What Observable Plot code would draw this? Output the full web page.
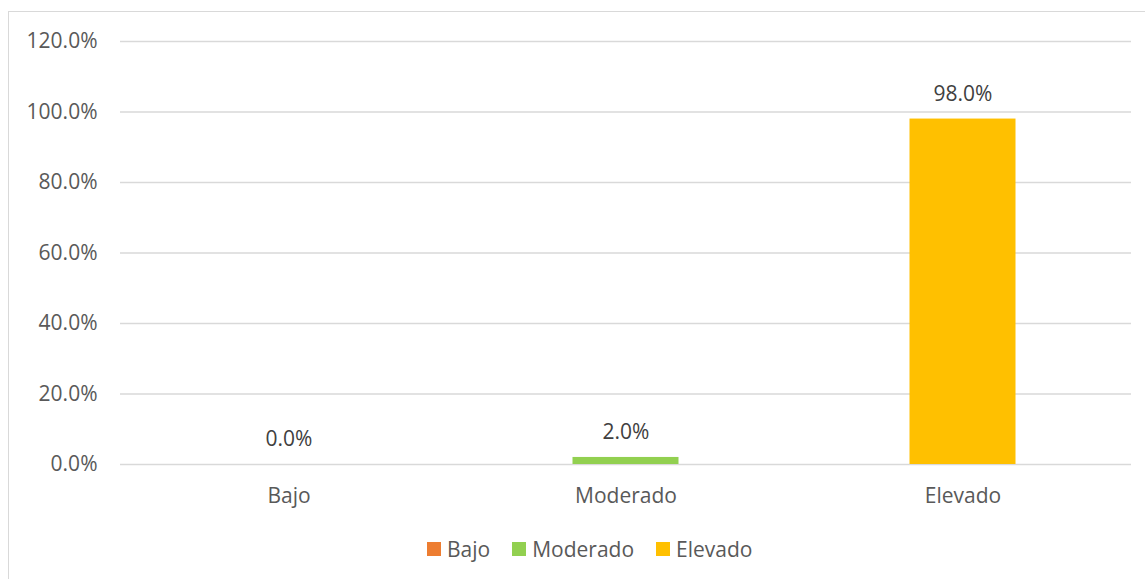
<!DOCTYPE html>
<html>
<head>
<meta charset="utf-8">
<script src="https://cdn.jsdelivr.net/npm/d3@7"></script>
<script src="https://cdn.jsdelivr.net/npm/@observablehq/plot@0.6"></script>
<style>
  html, body { margin: 0; padding: 0; background: #fff; }
  body { width: 1145px; height: 579px; position: relative; overflow: hidden; font-family: "Open Sans", "Noto Sans", sans-serif; }
  #frame { position: absolute; left: 8px; top: 11px; width: 1200px; height: 700px; border: 1.5px solid #d9d9d9; box-sizing: border-box; }
  #chart { position: absolute; left: 0; top: 0; }
  #legend { position: absolute; left: 427px; top: 535px; display: flex; align-items: center; font-size: 21px; color: #595959; white-space: nowrap; }
  #legend .item { display: flex; align-items: center; margin-right: 22px; }
  #legend .sw { width: 14px; height: 14px; margin-right: 6px; }
</style>
</head>
<body>
<div id="frame"></div>
<div id="chart"></div>
<div id="legend"></div>
<script>
const categories = ["Bajo", "Moderado", "Elevado"];
const values = [0.0, 0.02, 0.98];
const colors = ["#ED7D31", "#92D050", "#FFC000"];
const yTicks = [0, 0.2, 0.4, 0.6, 0.8, 1.0, 1.2];

const data = categories.map((c, i) => ({category: c, value: values[i], color: colors[i]}));

const chart = Plot.plot({
  width: 1145,
  height: 520,
  marginTop: 41,
  marginLeft: 120,
  marginRight: 14,
  marginBottom: 56,
  style: { fontFamily: '"Open Sans", "Noto Sans", sans-serif', fontSize: "21px", color: "#595959", background: "transparent" },
  x: { domain: categories, padding: 0, label: null },
  y: { domain: [0, 1.2], label: null },
  marks: [
    Plot.gridY(yTicks, { stroke: "#d9d9d9", strokeOpacity: 1, strokeWidth: 1.5 }),
    Plot.barY(data, { x: "category", y: "value", fill: "color", insetLeft: 115.5, insetRight: 115.5 }),
    Plot.text(data, { x: "category", y: "value", text: d => d3.format(".1%")(d.value), dy: -25, fill: "#404040", fontSize: 21 }),
    Plot.axisY({ ticks: yTicks, tickFormat: d3.format(".1%"), tickSize: 0, tickPadding: 23, fontSize: 21, label: null }),
    Plot.axisX({ tickSize: 0, tickPadding: 24, fontSize: 21, label: null })
  ]
});
document.getElementById("chart").appendChild(chart);

const legend = document.getElementById("legend");
categories.forEach((c, i) => {
  const item = document.createElement("div");
  item.className = "item";
  const sw = document.createElement("div");
  sw.className = "sw";
  sw.style.background = colors[i];
  const t = document.createElement("span");
  t.textContent = c;
  item.appendChild(sw);
  item.appendChild(t);
  legend.appendChild(item);
});
</script>
</body>
</html>
